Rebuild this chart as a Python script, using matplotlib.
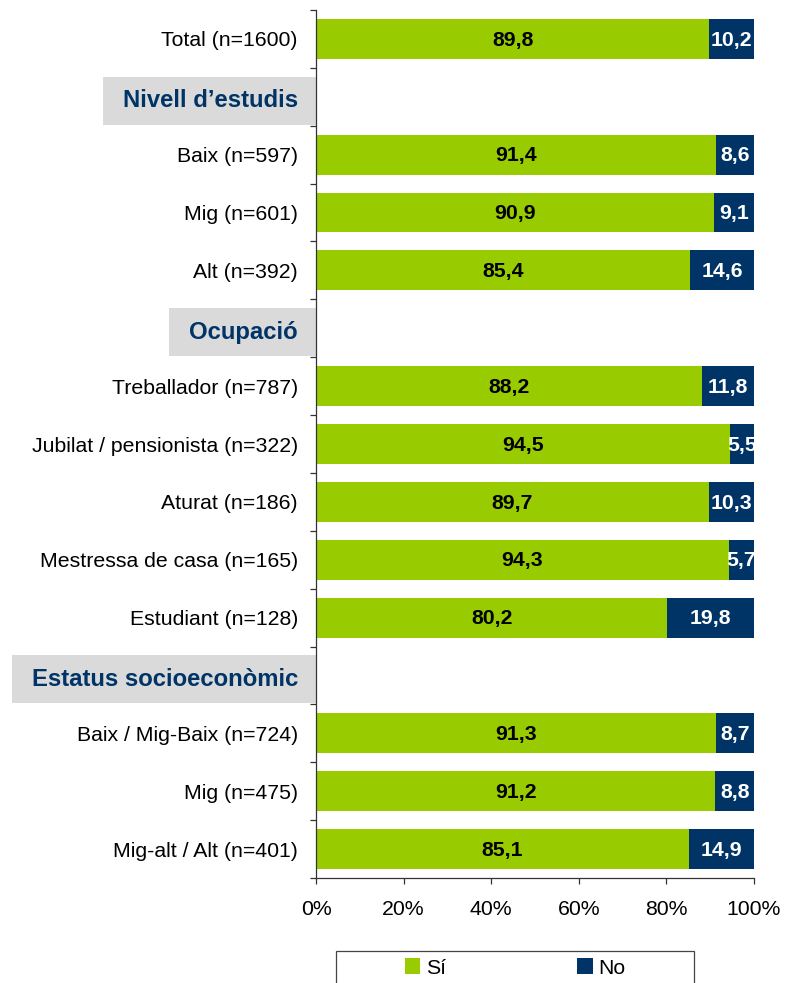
import matplotlib
matplotlib.use("Agg")
import matplotlib.pyplot as plt
from matplotlib.patches import Patch, Rectangle
from matplotlib.ticker import FixedLocator

plt.rcParams['font.family'] = ['Liberation Sans', 'DejaVu Sans']

# ---- data ----
categories = ["Total (n=1600)", "Nivell d’estudis", "Baix (n=597)", "Mig (n=601)", "Alt (n=392)",
              "Ocupació", "Treballador (n=787)", "Jubilat / pensionista (n=322)", "Aturat (n=186)",
              "Mestressa de casa (n=165)", "Estudiant (n=128)", "Estatus socioeconòmic",
              "Baix / Mig-Baix (n=724)", "Mig (n=475)", "Mig-alt / Alt (n=401)"]
header_rows = ["Nivell d’estudis", "Ocupació", "Estatus socioeconòmic"]
si_values = [89.8, None, 91.4, 90.9, 85.4, None, 88.2, 94.5, 89.7, 94.3, 80.2, None, 91.3, 91.2, 85.1]
no_values = [10.2, None, 8.6, 9.1, 14.6, None, 11.8, 5.5, 10.3, 5.7, 19.8, None, 8.7, 8.8, 14.9]
series_names = ["Sí", "No"]
xticks = [0, 20, 40, 60, 80, 100]
xtick_labels = ["0%", "20%", "40%", "60%", "80%", "100%"]

GREEN = "#99CC00"
NAVY = "#003366"
HEADER_BG = "#DADADA"

W, H = 785, 983
fig = plt.figure(figsize=(W / 100, H / 100), dpi=100)
ax_left, ax_right, ax_top, ax_bottom = 316, 754, 10, 878
ax = fig.add_axes([ax_left / W, 1 - ax_bottom / H, (ax_right - ax_left) / W, (ax_bottom - ax_top) / H])

n = len(categories)
ypos = list(range(n))
bar_h = 0.69
FS = 15.3

for i, (s, no) in enumerate(zip(si_values, no_values)):
    if s is None:
        continue
    ax.barh(i, s, height=bar_h, color=GREEN, zorder=2)
    ax.barh(i, no, left=s, height=bar_h, color=NAVY, zorder=2)
    ax.text(s / 2, i + 0.02, f"{s:.1f}".replace(".", ","), ha="center", va="center",
            fontsize=FS, fontweight="bold", color="black", zorder=3, clip_on=True)
    ax.text(s + no / 2, i + 0.02, f"{no:.1f}".replace(".", ","), ha="center", va="center",
            fontsize=FS, fontweight="bold", color="white", zorder=3, clip_on=True)

ax.set_xlim(0, 100)
ax.set_ylim(n - 0.5, -0.5)

# y ticks: labels at centers, small ticks at boundaries
ax.set_yticks(ypos)
ax.set_yticklabels([c if c not in header_rows else "" for c in categories], fontsize=FS)
ax.yaxis.set_minor_locator(FixedLocator([k - 0.5 for k in range(n + 1)]))
ax.tick_params(axis="y", which="major", length=0, pad=13)
ax.tick_params(axis="y", which="minor", length=4, width=0.9, direction="out", color="#333333")

ax.set_xticks(xticks)
ax.set_xticklabels(xtick_labels, fontsize=FS)
ax.tick_params(axis="x", which="major", length=4.5, width=0.9, pad=11.5, color="#333333")

for sp in ["top", "right"]:
    ax.spines[sp].set_visible(False)
for sp in ["left", "bottom"]:
    ax.spines[sp].set_color("#333333")
    ax.spines[sp].set_linewidth(0.9)

# header labels with grey boxes
row_px = (ax_bottom - ax_top) / n
hdr_texts = []
for i, c in enumerate(categories):
    if c in header_rows:
        t = ax.text(-18 / (ax_right - ax_left), i + 4 / row_px, c, transform=ax.get_yaxis_transform(),
                    ha="right", va="center", fontsize=17.2, fontweight="bold", color=NAVY,
                    clip_on=False, zorder=5)
        hdr_texts.append((i, t))

fig.canvas.draw()
for i, t in hdr_texts:
    ext = t.get_window_extent()
    cy_top = ax_top + (i + 0.5) * row_px + 4  # center from top, in px
    x0 = ext.x0 - 20
    x1 = ax_left + 2
    y0 = H - (cy_top + 24)
    rect = Rectangle((x0 / W, y0 / H), (x1 - x0) / W, 48 / H, transform=fig.transFigure,
                     facecolor=HEADER_BG, edgecolor="none", zorder=-1)
    fig.add_artist(rect)

# legend frame (cut off at bottom like reference)
frame = Rectangle((336 / W, 1 - 996 / H), (694 - 336) / W, 45 / H, transform=fig.transFigure,
                  facecolor="white", edgecolor="#444444", linewidth=0.9, clip_on=False, zorder=1)
fig.add_artist(frame)
handles = [Patch(facecolor=GREEN, edgecolor="none", label=series_names[0]),
           Patch(facecolor=NAVY, edgecolor="none", label=series_names[1])]
leg = fig.legend(handles=handles, loc="center left", bbox_to_anchor=(405 / W, 1 - 968 / H),
                 ncol=2, frameon=False, fontsize=FS, handlelength=0.72, handleheight=0.72,
                 handletextpad=0.25, columnspacing=6.2, borderpad=0, borderaxespad=0)
leg.set_zorder(2)

fig.savefig("out.png", dpi=100)
